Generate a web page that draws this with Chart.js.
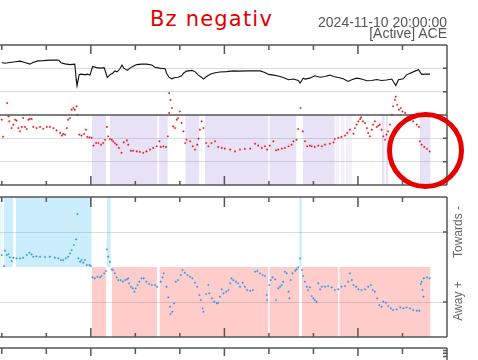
<!DOCTYPE html>
<html><head><meta charset="utf-8">
<script src="https://cdn.jsdelivr.net/npm/chart.js@4.4.1/dist/chart.umd.min.js"></script>
<style>
html,body{margin:0;padding:0;background:#fff;}
body{width:478px;height:360px;overflow:hidden;position:relative;font-family:"Liberation Sans",Arial,sans-serif;}
canvas{position:absolute;left:0;}
#c1{top:40px} #c2{top:192px} #c3{top:343px}
.t{position:absolute;white-space:nowrap;}
#title{left:150px;top:9px;font-family:"DejaVu Sans";font-size:21px;line-height:21px;color:#e00000;letter-spacing:1.2px}
#stamp{right:31px;top:15px;font-size:14px;line-height:14px;color:#555;}
#src{right:31px;top:26px;font-size:14px;line-height:14px;color:#555;}
.side{position:absolute;width:80px;height:14px;line-height:14px;font-size:12px;color:#666;text-align:center;transform:rotate(-90deg);white-space:nowrap;}
#towards{left:418px;top:225px}
#away{left:418px;top:294px}
#ring{position:absolute;left:387px;top:112px;width:77px;height:77px;box-sizing:border-box;border:5.5px solid #e60000;border-radius:50%;}
</style></head>
<body>
<canvas id="c1" width="478" height="150"></canvas>
<canvas id="c2" width="478" height="150"></canvas>
<canvas id="c3" width="478" height="125"></canvas>
<div class="t" id="title">Bz negativ</div>
<div class="t" id="stamp">2024-11-10 20:00:00</div>
<div class="t" id="src">[Active] ACE</div>
<div class="side" id="towards">Towards -</div>
<div class="side" id="away">Away +</div>
<div id="ring"></div>
<script>
// ---- time axis (hours UTC) ----
const xMin = 9.96, xMax = 20;
const hourTicks = [10,11,12,13,14,15,16,17,18,19,20];
const majorHours = [12,15,18];

// ---- Bt (black) ----
const btX = [10.00,10.07,10.18,10.30,10.41,10.52,10.63,10.70,10.81,10.93,11.08,11.24,11.28,11.33,11.42,11.53,11.64,11.66,11.67,11.68,11.69,11.74,11.79,11.87,11.92,11.98,12.04,12.13,12.21,12.30,12.34,12.37,12.43,12.49,12.54,12.59,12.65,12.70,12.74,12.82,12.88,12.95,13.03,13.14,13.25,13.37,13.44,13.54,13.67,13.70,13.76,13.82,13.89,13.96,14.04,14.08,14.15,14.27,14.34,14.41,14.49,14.53,14.60,14.68,14.79,14.90,15.05,15.20,15.35,15.50,15.65,15.80,15.91,15.99,16.10,16.21,16.32,16.44,16.55,16.66,16.70,16.77,16.81,16.92,17.03,17.15,17.26,17.37,17.45,17.56,17.67,17.78,17.86,17.97,18.08,18.20,18.31,18.42,18.53,18.64,18.76,18.85,18.91,19.02,19.09,19.17,19.28,19.36,19.43,19.51,19.62];
const btY = [22.5,22.2,22.5,22.8,23.1,22.5,21.8,22.5,23.2,23.3,23.5,23.6,23.5,22.4,21.9,21.6,21.8,17.9,15.4,13.9,12.5,17.4,17.5,17.2,17.5,17.1,20.8,20.3,20.1,20.3,17.9,16.1,17.2,17.9,18.9,18.5,19.7,21.4,20.1,19.1,20.1,20.9,21.6,21.8,21.8,21.4,20.5,20.1,19.8,17.9,16.1,15.5,16.1,16.2,16.8,17.9,18.8,19.1,18.6,17.2,16.1,15.4,16.5,17.5,18.1,18.4,18.6,18.9,18.8,18.9,18.9,18.9,18.2,17.4,17.1,16.7,16.1,15.1,15.4,14.8,13.7,15.8,15.4,15.8,16.8,16.2,16.5,17.1,16.5,16.1,15.5,14.4,15.1,15.8,15.4,14.7,14.8,15.2,14.8,15.0,15.4,12.6,15.1,15.5,17.2,17.9,18.8,19.4,17.4,17.5,17.5];

// ---- Bz (red) ----
const bzX = [10.00,10.03,10.12,10.15,10.17,10.22,10.26,10.30,10.33,10.37,10.41,10.45,10.48,10.52,10.56,10.60,10.63,10.67,10.71,10.78,10.86,10.93,11.01,11.08,11.16,11.23,11.31,11.35,11.38,11.42,11.46,11.49,11.53,11.57,11.61,11.64,11.68,11.70,11.74,11.79,11.85,11.89,11.92,11.97,12.02,12.06,12.12,12.17,12.23,12.28,12.32,12.36,12.39,12.43,12.47,12.50,12.54,12.58,12.63,12.69,12.74,12.81,12.84,12.90,12.95,13.03,13.10,13.18,13.25,13.33,13.40,13.48,13.54,13.57,13.63,13.69,13.73,13.76,13.76,13.79,13.82,13.85,13.89,13.93,13.96,14.00,14.04,14.08,14.12,14.15,14.23,14.29,14.34,14.39,14.42,14.45,14.49,14.53,14.59,14.64,14.71,14.79,14.86,14.94,15.01,15.13,15.24,15.35,15.46,15.58,15.69,15.76,15.84,15.91,15.96,16.02,16.10,16.16,16.21,16.29,16.36,16.44,16.51,16.55,16.62,16.66,16.71,16.76,16.81,16.86,16.92,16.96,17.03,17.11,17.19,17.26,17.37,17.45,17.48,17.56,17.63,17.71,17.76,17.82,17.90,17.93,17.97,18.01,18.05,18.07,18.11,18.16,18.20,18.23,18.27,18.31,18.34,18.38,18.42,18.46,18.49,18.53,18.57,18.61,18.64,18.68,18.72,18.76,18.79,18.83,18.85,18.88,18.92,18.96,19.00,19.06,19.11,19.17,19.24,19.32,19.37,19.39,19.43,19.49,19.55,19.61];
const bzY = [-2.0,-9.3,5.1,-0.6,-2.7,-5.6,-4.1,-2.0,-2.4,-5.6,-7.0,-5.1,-1.3,-5.1,-6.0,-2.0,-1.6,-1.7,-5.1,-5.6,-5.1,-5.9,-5.1,-5.1,-5.6,-6.6,-7.7,-8.8,-8.1,-8.4,-5.6,-2.0,-1.3,2.3,3.0,2.3,3.7,0.1,-8.4,-8.8,-8.1,-6.3,-9.4,-9.6,-9.8,-13.1,-12.0,-12.0,-12.7,-12.0,-10.6,-5.1,-9.1,-10.3,-10.6,-11.3,-12.0,-12.7,-14.1,-16.2,-11.7,-10.9,-12.7,-15.3,-15.3,-15.6,-15.8,-16.2,-15.6,-14.8,-14.1,-13.4,-11.3,-13.7,-13.4,-13.7,-9.1,0.9,9.4,6.5,3.0,-4.9,-5.6,-2.0,-1.3,1.5,-3.4,-7.0,-12.0,-10.6,-11.3,-13.4,-14.8,-12.7,-10.1,-6.3,-2.7,-5.6,-12.0,-13.4,-12.0,-11.3,-13.7,-14.1,-14.4,-14.8,-15.6,-14.8,-14.5,-14.4,-12.3,-13.1,-14.1,-13.4,-14.8,-13.1,-11.3,-15.1,-14.8,-14.4,-14.1,-13.4,-12.7,-11.3,-10.6,-6.0,3.0,-7.0,-11.3,-13.4,-13.1,-13.4,-13.7,-13.1,-13.4,-12.7,-12.3,-11.7,-10.3,-9.8,-9.4,-8.8,-7.7,-6.3,-8.0,-5.6,-4.1,-2.7,-1.7,-1.0,-2.7,-3.4,-5.6,-7.7,-9.1,-6.3,-4.1,-2.7,-5.1,-4.6,-4.1,-6.3,-9.1,-10.6,-8.4,-7.0,-4.1,0.1,3.7,6.5,7.9,4.4,2.3,3.0,1.5,0.9,-0.9,-2.0,-2.7,-4.1,-5.1,-11.3,-12.7,-13.7,-14.5,-15.6];

// ---- Phi angle (blue) ----
const phiX = [10.00,10.05,10.07,10.11,10.15,10.18,10.22,10.26,10.33,10.41,10.48,10.56,10.62,10.67,10.71,10.78,10.86,10.97,11.08,11.19,11.27,11.33,11.38,11.44,11.49,11.53,11.57,11.62,11.67,11.70,11.72,11.76,11.79,11.83,11.87,11.91,11.97,12.00,12.04,12.09,12.15,12.21,12.24,12.30,12.34,12.36,12.39,12.43,12.47,12.50,12.54,12.58,12.62,12.67,12.72,12.77,12.81,12.84,12.86,12.90,12.94,12.98,13.01,13.05,13.09,13.14,13.19,13.25,13.31,13.37,13.44,13.49,13.57,13.61,13.64,13.70,13.74,13.78,13.79,13.83,13.87,13.91,13.96,14.02,14.06,14.11,14.17,14.23,14.28,14.34,14.39,14.44,14.47,14.51,14.53,14.59,14.64,14.66,14.72,14.77,14.83,14.86,14.90,14.94,14.98,15.04,15.09,15.13,15.16,15.20,15.26,15.31,15.35,15.41,15.46,15.51,15.58,15.64,15.69,15.74,15.80,15.86,15.91,15.95,15.96,16.01,16.04,16.08,16.14,16.16,16.21,16.25,16.29,16.32,16.36,16.40,16.44,16.46,16.49,16.53,16.59,16.62,16.66,16.70,16.74,16.77,16.81,16.85,16.88,16.92,16.96,17.00,17.03,17.07,17.11,17.15,17.19,17.26,17.33,17.41,17.48,17.56,17.63,17.71,17.78,17.82,17.86,17.90,17.96,18.01,18.08,18.16,18.23,18.29,18.33,18.38,18.43,18.48,18.53,18.57,18.63,18.68,18.74,18.79,18.87,18.95,19.02,19.09,19.17,19.24,19.32,19.38,19.41,19.43,19.45,19.47,19.48,19.55,19.61];
const phiY = [210.8,182.5,221.9,210.8,213.4,205.0,195.4,203.9,202.3,202.3,203.9,210.8,216.7,212.6,206.5,207.5,206.5,205.7,206.5,203.9,202.3,198.0,198.0,202.3,206.5,215.2,223.7,236.5,251.2,316.2,202.3,193.6,198.0,191.0,198.0,185.1,185.1,182.5,153.5,150.9,155.0,153.5,156.8,163.8,169.7,225.5,206.5,193.6,174.1,172.3,163.8,153.5,146.5,146.5,142.2,146.5,148.3,150.9,138.1,129.3,125.2,116.5,125.2,133.7,142.2,150.9,150.9,142.2,136.3,133.7,133.7,129.3,142.2,153.5,163.8,129.3,102.1,77.9,59.1,65.0,86.6,142.2,146.5,159.4,172.3,165.3,159.4,155.0,150.9,139.6,129.3,108.0,95.1,73.8,65.0,110.6,133.7,112.4,99.5,90.8,86.6,88.2,103.6,122.6,112.4,116.5,120.8,138.1,150.9,146.5,142.2,138.1,129.3,139.6,129.3,120.8,119.0,120.8,167.9,169.7,163.8,159.4,156.8,108.0,95.1,133.7,146.5,153.5,148.3,95.1,125.2,129.3,133.7,142.2,167.9,163.8,116.5,99.5,146.5,163.8,170.5,174.1,179.2,202.3,172.3,156.8,142.2,129.3,120.8,127.8,105.4,99.5,95.1,90.8,138.1,122.6,129.3,129.3,131.1,127.8,120.8,122.6,129.3,131.1,142.2,163.8,146.5,133.7,129.3,122.6,120.8,122.6,129.3,133.7,120.8,116.5,99.5,82.3,77.9,90.8,88.2,79.7,73.8,69.4,71.2,76.4,73.8,76.4,73.8,69.4,67.6,67.6,136.3,142.2,120.8,103.6,150.9,153.5,150.9];

// ---- shaded intervals (hours) ----
const bzNegSpans = [[12.02,12.34],[12.43,13.50],[13.53,13.73],[14.12,14.44],[14.56,15.99],[16.01,16.62],[16.76,17.48],[18.53,18.60],[18.62,18.68],[19.39,19.63]];
const bzNegFaintSpans = [[11.94,11.96],[14.47,14.49],[17.49,17.58],[17.61,17.70],[17.73,17.87],[18.00,18.01],[18.16,18.17],[18.31,18.32]];
const towardsSpans = [[10.05,10.26],[10.31,12.02],[12.36,12.45],[16.68,16.74]];
const towardsFaintSpans = [[9.96,10.02]];
const awaySpans = [[12.02,12.34],[12.47,13.49],[13.54,15.99],[16.01,16.68],[16.74,17.56],[17.58,19.63]];

const pts = (xs, ys) => xs.map((x, i) => ({x, y: ys[i]}));
function spanData(list, level) {
  const d = [];
  list.forEach(([a, b]) => { d.push({x: a, y: level}, {x: b, y: level}, {x: b, y: null}); });
  return d;
}
function shade(list, level, base, color) {
  return {data: spanData(list, level), borderColor: 'rgba(0,0,0,0)', borderWidth: 0, pointRadius: 0,
    showLine: true, spanGaps: false, fill: {value: base}, backgroundColor: color};
}

const framePlugin = {
  id: 'frame',
  afterDatasetsDraw(chart, args, o) {
    const {ctx, chartArea: a, scales} = chart;
    const xs = scales.x, ys = scales.y;
    ctx.save();
    ctx.strokeStyle = '#565656';
    ctx.lineWidth = 1.5;
    ctx.beginPath();
    ctx.moveTo(a.left, a.top); ctx.lineTo(a.right, a.top);
    if (o.bottom) { ctx.moveTo(a.left, a.bottom); ctx.lineTo(a.right, a.bottom); }
    ctx.moveTo(a.right, a.top); ctx.lineTo(a.right, o.bottom ? a.bottom : chart.height);
    (o.hLines || []).forEach(v => { const y = ys.getPixelForValue(v); ctx.moveTo(a.left, y); ctx.lineTo(a.right, y); });
    hourTicks.forEach(h => {
      const x = xs.getPixelForValue(h);
      const major = majorHours.includes(h);
      ctx.moveTo(x, a.top); ctx.lineTo(x, a.top + (major ? o.topMajor : o.topMinor));
      if (o.bottom) { ctx.moveTo(x, a.bottom); ctx.lineTo(x, a.bottom - (major ? 9 : 4)); }
    });
    (o.rightTicks || []).forEach(v => { const y = ys.getPixelForValue(v); ctx.moveTo(a.right, y); ctx.lineTo(a.right - 4, y); });
    ctx.stroke();
    ctx.restore();
  }
};

function baseOptions(yScale, frame, pad) {
  return {
    responsive: false, animation: false, events: [],
    layout: {padding: pad, autoPadding: false},
    plugins: {legend: {display: false}, tooltip: {enabled: false}, frame},
    scales: {x: {type: 'linear', min: xMin, max: xMax, display: false}, y: yScale}
  };
}
const gridHidden = 'rgba(0,0,0,0)';

// Panel 1: Bt / Bz
new Chart(document.getElementById('c1'), {
  type: 'line',
  data: {datasets: [
    {data: pts(btX, btY), borderColor: '#111', borderWidth: 1.1, pointRadius: 0, showLine: true, fill: false},
    {data: pts(bzX, bzY), showLine: false, pointRadius: 0.85, pointBackgroundColor: '#e00000', pointBorderColor: 'rgba(240,90,90,0.4)', pointBorderWidth: 0.9, fill: false},
    shade(bzNegSpans, -30, 0, 'rgba(140,110,210,0.2)'),
    shade(bzNegFaintSpans, -30, 0, 'rgba(140,110,210,0.1)')
  ]},
  options: baseOptions({
    type: 'linear', min: -30, max: 30, display: true,
    ticks: {display: false, stepSize: 10},
    grid: {drawTicks: false, lineWidth: 1, color: c => (Math.abs(c.tick.value) === 30 || c.tick.value === 0) ? gridHidden : '#dcdcdc'},
    border: {display: false}
  }, {bottom: true, hLines: [0], rightTicks: [-20, -10, 10, 20], topMajor: 9, topMinor: 5},
  {left: 0, right: 31, top: 5, bottom: 5}),
  plugins: [framePlugin]
});

// Panel 2: Phi angle with towards / away sectors
new Chart(document.getElementById('c2'), {
  type: 'line',
  data: {datasets: [
    {data: pts(phiX, phiY), showLine: false, pointRadius: 0.85, pointBackgroundColor: '#2394d8', pointBorderColor: 'rgba(80,170,235,0.4)', pointBorderWidth: 0.9, fill: false},
    shade(towardsSpans, 360, 180, 'rgba(0,170,240,0.2)'),
    shade(towardsFaintSpans, 360, 180, 'rgba(0,170,240,0.1)'),
    shade(awaySpans, 0, 180, 'rgba(255,0,0,0.2)')
  ]},
  options: baseOptions({
    type: 'linear', min: 0, max: 360, display: true,
    ticks: {display: false, stepSize: 90},
    grid: {drawTicks: false, lineWidth: 1, color: c => (c.tick.value === 90 || c.tick.value === 270) ? '#dcdcdc' : gridHidden},
    border: {display: false}
  }, {bottom: true, rightTicks: [90, 270], topMajor: 10, topMinor: 5},
  {left: 0, right: 31, top: 5, bottom: 5}),
  plugins: [framePlugin]
});

// Panel 3: next panel (log axis), only its top edge is visible
const panel3RightTicks = [90, 80, 70];
new Chart(document.getElementById('c3'), {
  type: 'line',
  data: {datasets: [{data: [], showLine: false}]},
  options: baseOptions({
    type: 'logarithmic', min: 1, max: 100, display: true,
    ticks: {display: false},
    grid: {display: false, drawTicks: false},
    border: {display: false}
  }, {bottom: false, rightTicks: panel3RightTicks, topMajor: 8, topMinor: 6},
  {left: 0, right: 31, top: 5, bottom: 10}),
  plugins: [framePlugin]
});
</script>
</body></html>
